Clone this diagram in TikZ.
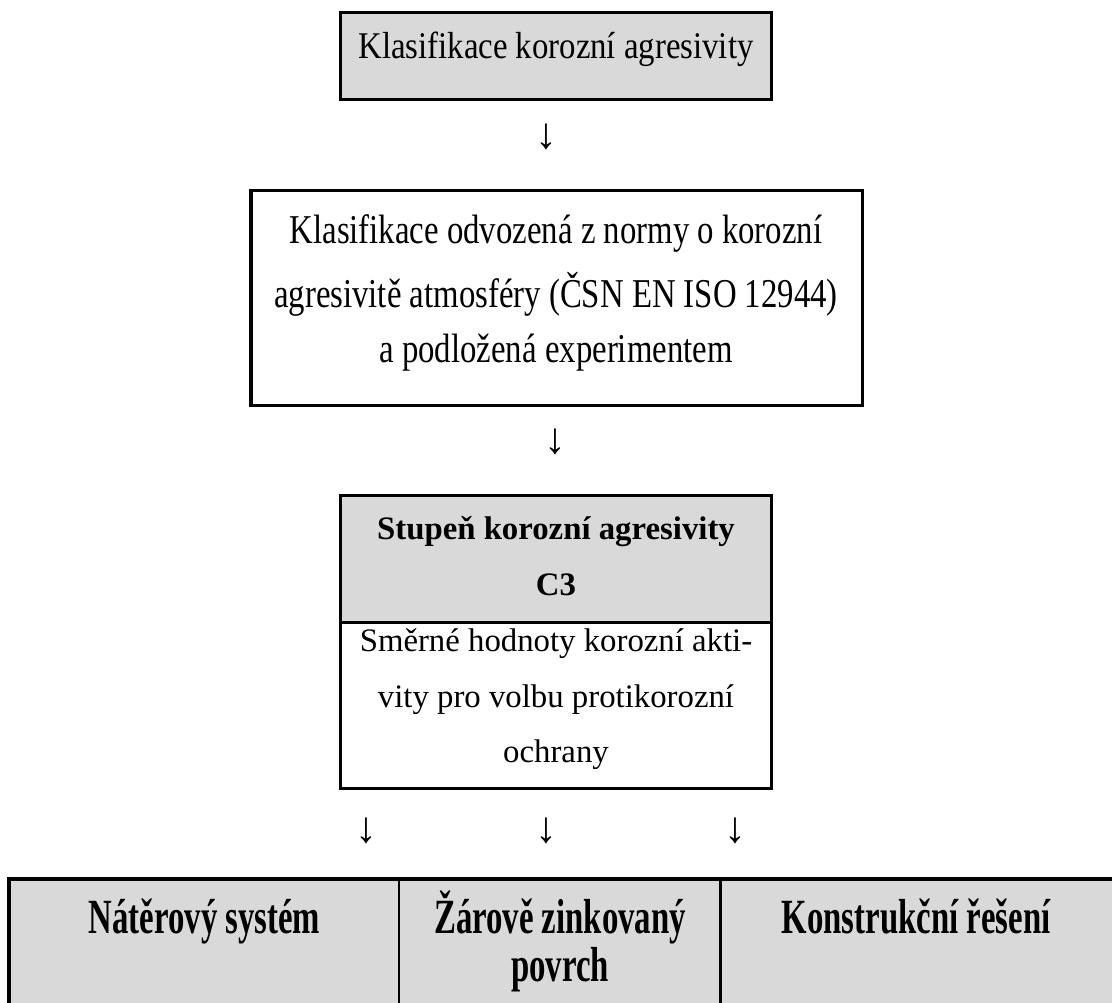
\documentclass[tikz,border=0pt]{standalone}
\usepackage{fontspec}
\setmainfont{Liberation Serif}
\usetikzlibrary{fit}
\definecolor{cellgray}{HTML}{D9D9D9}

\begin{document}
\begin{tikzpicture}[x=0.366pt, y=-0.366pt, font=\fontsize{12}{14}\selectfont]
    % Define node styles
    \tikzstyle{graybox} = [rectangle, draw=black, fill=cellgray, line width=1.1pt, inner sep=0pt]
    \tikzstyle{whitebox} = [rectangle, draw=black, fill=white, line width=1.1pt, inner sep=0pt]
    \tikzstyle{cell} = [rectangle, draw=black, fill=cellgray, line width=0.95pt, inner sep=0pt]
    \tikzstyle{txt} = [anchor=base, inner sep=0pt]
    \tikzstyle{head} = [anchor=base, inner sep=0pt, font=\fontsize{12}{14}\selectfont\bfseries]
    \tikzstyle{arrowsign} = [inner sep=0pt, font=\fontsize{16}{18}\selectfont]

    \useasboundingbox (0,0) rectangle (1112,1003);
    \clip (0,0) rectangle (1112,1003);

    % Boxes
    \node[graybox, fit={(340,12.7) (771.7,100)}] (klas) {};
    \node[whitebox, fit={(251,190.7) (862,406)}] (odvoz) {};
    \node[graybox, fit={(340,496) (771.7,622.7)}] (stupen) {};
    \node[whitebox, fit={(340,622.7) (771.7,789)}] (smerne) {};
    \node[cell, fit={(10,880) (399,1040)}] (nater) {};
    \node[cell, fit={(399,880) (720.7,1040)}] (zinek) {};
    \node[cell, fit={(720.7,880) (1130,1040)}] (konstr) {};
    \draw[line width=1.3pt] (nater.south west) -- (nater.north west) -- (konstr.north east);

    % Texts
    \node[txt] (klasT) at (556,58.3) {\scalebox{1}[1.15]{Klasifikace korozní agresivity}};
    \node[txt] (odvozA) at (556,244) {\scalebox{1}[1.25]{Klasifikace odvozená z normy o korozní}};
    \node[txt] (odvozB) at (556,307.7) {\scalebox{1}[1.25]{agresivitě atmosféry (ČSN EN ISO 12944)}};
    \node[txt] (odvozC) at (556,363) {\scalebox{1}[1.25]{a podložená experimentem}};
    \node[head] (stupenA) at (556,540) {Stupeň korozní agresivity};
    \node[head] (stupenB) at (556,596) {C3};
    \node[txt] (smerneA) at (556,651.7) {Směrné hodnoty korozní akti-};
    \node[txt] (smerneB) at (556,708) {vity pro volbu protikorozní};
    \node[txt] (smerneC) at (556,762.7) {ochrany};
    \node[head] (naterT) at (204.5,934) {\scalebox{1}[1.5]{Nátěrový systém}};
    \node[head] (zinekA) at (560,934) {\scalebox{1}[1.5]{Žárově zinkovaný}};
    \node[head] (zinekB) at (560,982) {\scalebox{1}[1.5]{povrch}};
    \node[head] (konstrT) at (916,934) {\scalebox{1}[1.5]{Konstrukční řešení}};

    % Arrows
    \node[arrowsign] (down1) at (546.7,136.5) {↓};
    \node[arrowsign] (down2) at (555,441.5) {↓};
    \node[arrowsign] (down3) at (366,831) {↓};
    \node[arrowsign] (down4) at (546.6,831) {↓};
    \node[arrowsign] (down5) at (735,831) {↓};
\end{tikzpicture}
\end{document}
